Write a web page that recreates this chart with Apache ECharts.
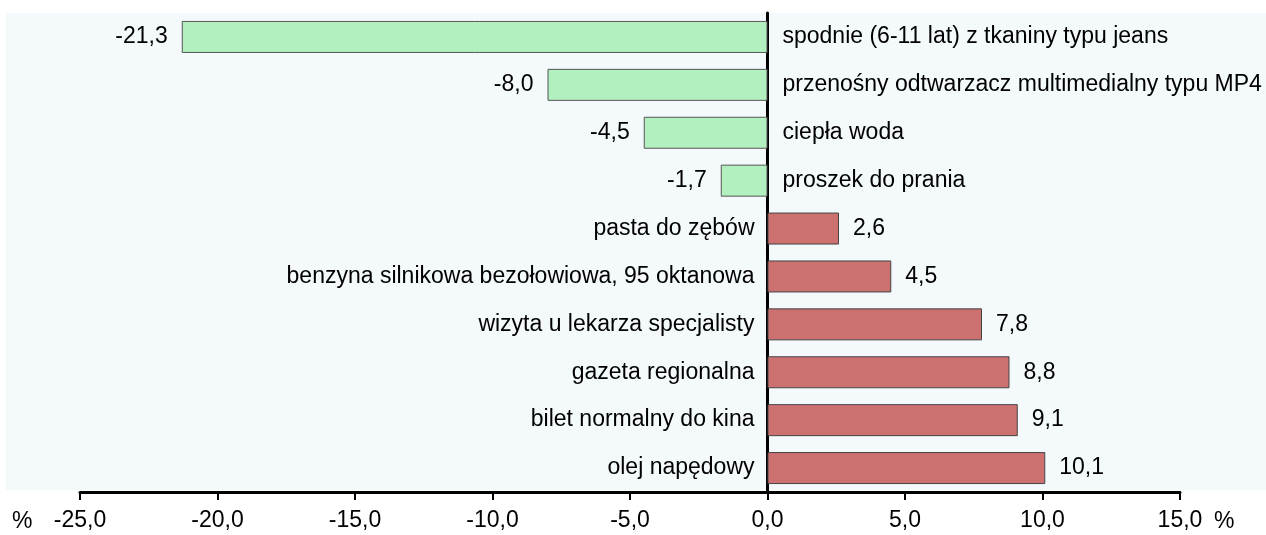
<!DOCTYPE html>
<html>
<head>
<meta charset="utf-8">
<script src="https://cdn.jsdelivr.net/npm/echarts@6/dist/echarts.min.js"></script>
<style>
html,body{margin:0;padding:0;background:#ffffff;}
#chart{width:1266px;height:535px;}
</style>
</head>
<body>
<div id="chart"></div>
<script>
const categories = [
  'spodnie (6-11 lat) z tkaniny typu jeans',
  'przenośny odtwarzacz multimedialny typu MP4',
  'ciepła woda',
  'proszek do prania',
  'pasta do zębów',
  'benzyna silnikowa bezołowiowa, 95 oktanowa',
  'wizyta u lekarza specjalisty',
  'gazeta regionalna',
  'bilet normalny do kina',
  'olej napędowy'
];
const values = [-21.3, -8.0, -4.5, -1.7, 2.6, 4.5, 7.8, 8.8, 9.1, 10.1];
const axisMin = -25, axisMax = 15, axisStep = 5;

const FONT = '"Liberation Sans", Arial, sans-serif';
const FS = 23;
const fmt = v => v.toFixed(1).replace('.', ',');

const chart = echarts.init(document.getElementById('chart'), null, {renderer: 'canvas'});

const barData = values.map(v => ({
  value: v,
  itemStyle: {color: v < 0 ? '#b3f0bf' : '#cc7070', borderColor: v < 0 ? '#555555' : '#444444', borderWidth: 1},
  label: {position: v < 0 ? 'left' : 'right'}
}));
const nameData = values.map((v, i) => ({
  value: 0,
  name: categories[i],
  label: {position: v < 0 ? 'right' : 'left', distance: v < 0 ? 15 : 13}
}));

chart.setOption({
  animation: false,
  textStyle: {fontFamily: FONT},
  graphic: [
    {type: 'rect', z: -10, shape: {x: 6, y: 13, width: 1260, height: 477}, style: {fill: '#f4f9fc'}},
    {type: 'text', left: 12, top: 510, style: {text: '%', font: FS + 'px ' + FONT, fill: '#000'}},
    {type: 'text', left: 1214, top: 510, style: {text: '%', font: FS + 'px ' + FONT, fill: '#000'}}
  ],
  grid: {left: 80, right: 86, top: 13, bottom: 43, containLabel: false},
  xAxis: {
    type: 'value', min: axisMin, max: axisMax, interval: axisStep,
    position: 'bottom',
    axisLine: {show: true, onZero: false, lineStyle: {color: '#000', width: 3}},
    axisTick: {show: true, inside: false, length: 8, lineStyle: {color: '#000', width: 2}},
    axisLabel: {formatter: v => fmt(v), fontSize: FS, color: '#000', margin: 17, fontFamily: FONT},
    splitLine: {show: false}
  },
  yAxis: {
    type: 'category', data: categories, inverse: true,
    axisLine: {show: true, onZero: true, lineStyle: {color: '#000', width: 3}},
    axisTick: {show: false},
    axisLabel: {show: false},
    splitLine: {show: false}
  },
  series: [
    {
      type: 'bar', data: barData, barWidth: 32, z: 2,
      label: {show: true, formatter: p => fmt(p.value), fontSize: FS, color: '#000', distance: 14, fontFamily: FONT}
    },
    {
      type: 'bar', data: nameData, barWidth: 32, barGap: '-100%', z: 1,
      itemStyle: {color: 'transparent'},
      label: {show: true, formatter: p => p.name, fontSize: FS, color: '#000', fontFamily: FONT}
    }
  ]
});
</script>
</body>
</html>
